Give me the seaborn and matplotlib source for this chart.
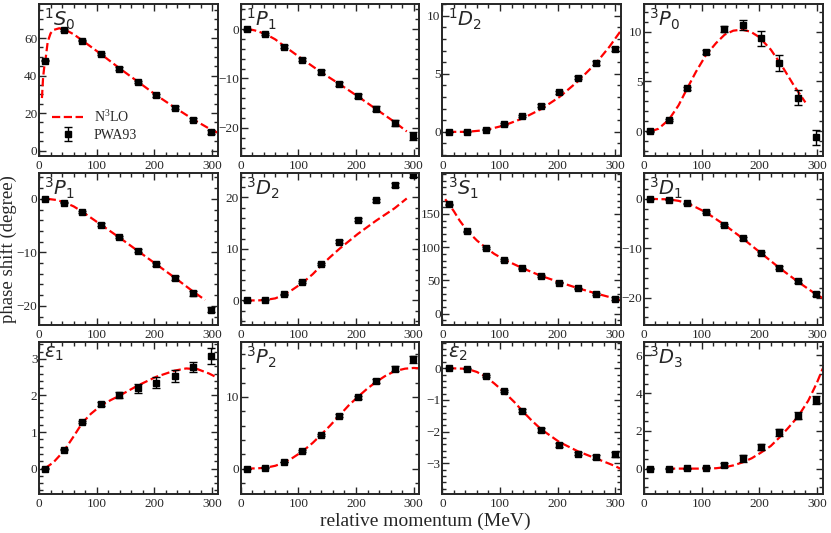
import numpy as np
import pandas as pd
import matplotlib
matplotlib.use('Agg')
import matplotlib.pyplot as plt
from matplotlib.ticker import MultipleLocator, FixedLocator
import seaborn as sns

# --- DADOS ---
momentum = [11, 43, 75, 107, 139, 171, 203, 235, 267, 299]

s10_pwa = [48.0, 64.3, 58.6, 51.4, 43.7, 36.5, 29.4, 22.7, 16.5, 9.9]
s10_err = [0.3, 0.4, 0.4, 0.5, 0.6, 0.6, 0.7, 0.8, 0.9, 1.0]
s10_kx = [5, 7, 9, 11, 15, 20, 25, 35, 45, 60, 75, 107, 139, 171, 203, 235, 267, 299, 310]
s10_ky = [28, 39, 44.5, 48, 58, 62.5, 64.3, 65.2, 64.5, 62, 58.7, 51.5, 44, 36.8, 29.6, 23, 16.7, 11, 9.6]

p11_pwa = [0.0, -1.07, -3.56, -6.17, -8.66, -11.07, -13.5, -16.1, -18.9, -21.7]
p11_err = [0.1, 0.2, 0.25, 0.3, 0.35, 0.4, 0.45, 0.5, 0.6, 0.8]
p11_kx = [13, 25, 43, 60, 75, 107, 139, 171, 203, 235, 267, 288]
p11_ky = [0.0, -0.3, -1.0, -2.1, -3.4, -6.1, -8.7, -11.1, -13.6, -16.2, -18.8, -20.7]

d12_pwa = [0.0, 0.02, 0.2, 0.66, 1.35, 2.27, 3.42, 4.66, 5.92, 7.13]
d12_err = [0.02, 0.03, 0.05, 0.08, 0.1, 0.12, 0.13, 0.14, 0.15, 0.15]
d12_kx = [10, 43, 75, 107, 139, 171, 203, 235, 267, 290, 310]
d12_ky = [0.0, 0.0, 0.15, 0.55, 1.15, 1.95, 3.0, 4.35, 5.95, 7.35, 8.75]

p30_pwa = [0.0, 1.14, 4.33, 7.95, 10.27, 10.7, 9.36, 6.85, 3.39, -0.6]
p30_err = [0.05, 0.1, 0.15, 0.2, 0.3, 0.5, 0.75, 0.8, 0.8, 0.75]
p30_kx = [12, 25, 43, 60, 75, 90, 107, 125, 140, 155, 170, 185, 200, 220, 240, 260, 280]
p30_ky = [0.0, 0.25, 1.15, 2.6, 4.3, 5.95, 7.6, 8.85, 9.7, 10.1, 10.2, 10.0, 9.45, 8.2, 6.5, 4.6, 2.9]

p31_pwa = [0.0, -0.68, -2.46, -4.8, -7.14, -9.66, -12.2, -14.83, -17.66, -20.74]
p31_err = [0.05, 0.1, 0.15, 0.2, 0.25, 0.3, 0.3, 0.35, 0.4, 0.45]
p31_kx = [15, 30, 43, 60, 75, 107, 139, 171, 203, 235, 267, 288]
p31_ky = [0.0, -0.2, -0.6, -1.4, -2.4, -4.8, -7.2, -9.7, -12.2, -14.7, -17.3, -18.9]

d32_pwa = [0.0, 0.13, 1.17, 3.56, 7.12, 11.4, 15.66, 19.42, 22.33, 24.27]
d32_err = [0.05, 0.05, 0.1, 0.15, 0.2, 0.25, 0.3, 0.35, 0.4, 0.4]
d32_kx = [10, 30, 43, 60, 75, 90, 107, 125, 139, 155, 171, 203, 235, 267, 288]
d32_ky = [0.0, 0.0, 0.1, 0.4, 1.1, 2.1, 3.4, 5.1, 6.7, 8.4, 10.0, 12.9, 15.5, 17.9, 19.8]

s31_pwa = [164.3, 123.8, 98.7, 80.9, 68.1, 56.7, 46.9, 38.0, 30.1, 22.7]
s31_err = [1.0, 1.0, 1.0, 1.0, 1.0, 1.0, 1.2, 1.4, 1.5, 1.8]
s31_kx = [5, 11, 20, 30, 43, 60, 75, 90, 107, 139, 171, 203, 235, 267, 299, 310]
s31_ky = [172, 165, 154, 140, 125, 110, 99.5, 90, 81.5, 68.5, 57, 47.5, 38.5, 30.5, 23, 20.5]

d31_pwa = [0.0, -0.13, -0.94, -2.68, -5.22, -8.03, -11.04, -13.98, -16.72, -19.26]
d31_err = [0.02, 0.05, 0.1, 0.15, 0.2, 0.25, 0.25, 0.3, 0.3, 0.35]
d31_kx = [10, 43, 60, 75, 90, 107, 125, 139, 171, 203, 235, 267, 299, 310]
d31_ky = [0.0, -0.1, -0.4, -0.9, -1.7, -2.7, -4.1, -5.2, -8.0, -11.0, -14.0, -16.8, -19.4, -20.1]

e1_pwa = [0.0, 0.515, 1.28, 1.77, 2.02, 2.2, 2.35, 2.54, 2.78, 3.08]
e1_err = [0.01, 0.02, 0.03, 0.05, 0.08, 0.12, 0.15, 0.17, 0.15, 0.23]
e1_kx = [10, 25, 43, 60, 75, 90, 107, 125, 139, 171, 203, 235, 255, 275, 295, 310]
e1_ky = [0.0, 0.17, 0.48, 0.88, 1.25, 1.5, 1.72, 1.88, 1.99, 2.27, 2.51, 2.68, 2.74, 2.72, 2.6, 2.48]

p32_pwa = [0.0, 0.14, 0.92, 2.44, 4.75, 7.37, 9.95, 12.2, 13.96, 15.25]
p32_err = [0.02, 0.03, 0.05, 0.1, 0.15, 0.2, 0.25, 0.3, 0.4, 0.5]
p32_kx = [10, 30, 43, 60, 75, 90, 107, 125, 139, 155, 171, 187, 203, 220, 235, 250, 267, 285, 300, 310]
p32_ky = [0.0, 0.05, 0.12, 0.4, 0.85, 1.5, 2.4, 3.6, 4.7, 6.0, 7.4, 8.8, 10.0, 11.2, 12.1, 12.9, 13.6, 13.95, 14.05, 14.0]

e2_pwa = [0.0, -0.02, -0.24, -0.72, -1.34, -1.95, -2.42, -2.7, -2.81, -2.72]
e2_err = [0.01, 0.02, 0.03, 0.04, 0.05, 0.05, 0.05, 0.05, 0.06, 0.08]
e2_kx = [10, 43, 60, 75, 90, 107, 125, 139, 155, 171, 203, 235, 267, 299, 310]
e2_ky = [0.0, -0.02, -0.12, -0.27, -0.48, -0.75, -1.07, -1.35, -1.65, -1.92, -2.33, -2.62, -2.85, -3.08, -3.18]

d33_pwa = [0.0, 0.0, 0.02, 0.05, 0.19, 0.54, 1.15, 1.92, 2.81, 3.62]
d33_err = [0.01, 0.01, 0.02, 0.04, 0.1, 0.17, 0.17, 0.17, 0.17, 0.22]
d33_kx = [40, 75, 107, 125, 139, 155, 171, 187, 203, 220, 235, 250, 267, 285, 300, 310]
d33_ky = [0.0, 0.0, 0.0, 0.02, 0.07, 0.17, 0.33, 0.55, 0.85, 1.2, 1.65, 2.15, 2.75, 3.6, 4.55, 5.3]

# (rotulo, pwa, erro, curva x, curva y, ylim, major, minor)
paineis = [
    (r'$^1S_0$', s10_pwa, s10_err, s10_kx, s10_ky, (-3, 78), 20, 5),
    (r'$^1P_1$', p11_pwa, p11_err, p11_kx, p11_ky, (-25.7, 5), 10, 2),
    (r'$^1D_2$', d12_pwa, d12_err, d12_kx, d12_ky, (-2.1, 11), 5, 1),
    (r'$^3P_0$', p30_pwa, p30_err, p30_kx, p30_ky, (-2.5, 12.75), 5, 1),
    (r'$^3P_1$', p31_pwa, p31_err, p31_kx, p31_ky, (-23.6, 4.8), 10, 2),
    (r'$^3D_2$', d32_pwa, d32_err, d32_kx, d32_ky, (-4.8, 24.7), 10, 2),
    (r'$^3S_1$', s31_pwa, s31_err, s31_kx, s31_ky, (-17, 211), [0, 50, 100, 150], 10),
    (r'$^3D_1$', d31_pwa, d31_err, d31_kx, d31_ky, (-25.6, 5.2), 10, 2),
    (r'$\varepsilon_1$', e1_pwa, e1_err, e1_kx, e1_ky, (-0.7, 3.46), 1, 0.2),
    (r'$^3P_2$', p32_pwa, p32_err, p32_kx, p32_ky, (-3.55, 17.65), 10, 2),
    (r'$\varepsilon_2$', e2_pwa, e2_err, e2_kx, e2_ky, (-3.97, 0.82), 1, 0.2),
    (r'$^3D_3$', d33_pwa, d33_err, d33_kx, d33_ky, (-1.35, 6.7), 2, 0.5),
]

# --- ESTILO ---
sns.set_theme(style='ticks')
plt.rcParams['font.family'] = ['Liberation Serif', 'DejaVu Serif']
plt.rcParams['mathtext.fontset'] = 'dejavusans'
plt.rcParams['axes.linewidth'] = 1.4

fig, axes = plt.subplots(3, 4, figsize=(8.31, 5.33), dpi=100)
fig.subplots_adjust(left=0.047, right=0.990, top=0.992, bottom=0.073,
                    wspace=0.128, hspace=0.112)

for i, (ax, p) in enumerate(zip(axes.flat, paineis)):
    rotulo, pwa, err, kx, ky, ylim, major, minor = p
    sns.lineplot(x=kx, y=ky, ax=ax, color='red', linestyle='--', lw=1.6,
                 label=r'N$^{\mathregular{3}}$LO' if i == 0 else None)
    ax.errorbar(momentum, pwa, yerr=err, fmt='s', color='black', ms=5,
                capsize=3, elinewidth=1, capthick=1,
                label='PWA93' if i == 0 else None)
    ax.set_xlim(0, 310)
    ax.set_ylim(*ylim)
    ax.xaxis.set_major_locator(MultipleLocator(100))
    ax.xaxis.set_minor_locator(MultipleLocator(20))
    if isinstance(major, list):
        ax.yaxis.set_major_locator(FixedLocator(major))
    else:
        ax.yaxis.set_major_locator(MultipleLocator(major))
    ax.yaxis.set_minor_locator(MultipleLocator(minor))
    ax.tick_params(which='both', direction='in', top=True, right=True,
                   labelsize=9.5, width=1, pad=1.2)
    ax.tick_params(axis='x', pad=2.5)
    ax.tick_params(which='major', length=5)
    ax.tick_params(which='minor', length=3)
    ax.set_xlabel('')
    ax.set_ylabel('')
    ax.text(0.03, 0.985, rotulo, transform=ax.transAxes, ha='left', va='top',
            fontsize=14)
    if i == 0:
        ax.legend(loc='lower left', bbox_to_anchor=(0.02, 0.03), frameon=False,
                  fontsize=10, handlelength=2.2, borderaxespad=0.3,
                  labelspacing=0.3)
    elif ax.get_legend() is not None:
        ax.get_legend().remove()

fig.text(0.512, 0.022, 'relative momentum (MeV)', ha='center', va='center',
         fontsize=14)
fig.text(0.0102, 0.532, 'phase shift (degree)', ha='center', va='center',
         rotation=90, fontsize=13.5)

plt.savefig('out.png', dpi=100)
plt.close()
